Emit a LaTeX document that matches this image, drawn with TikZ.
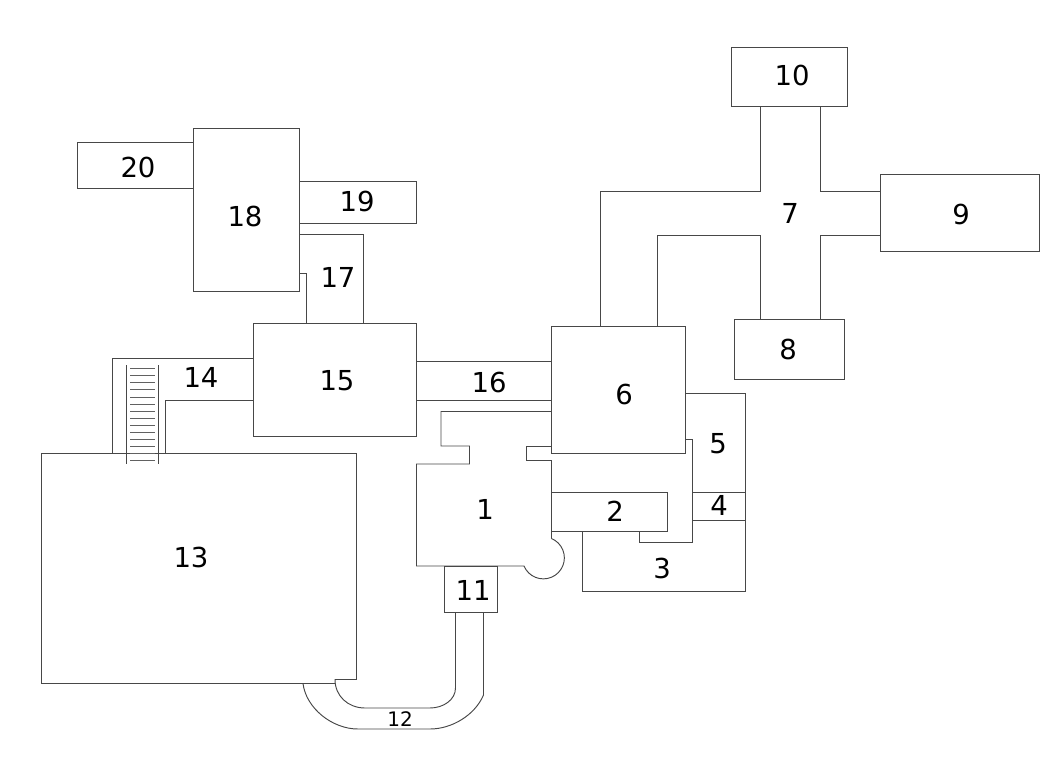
\documentclass[tikz,border=0pt]{standalone}
\usepackage{fontspec}
\setmainfont{DejaVu Sans}
\tikzset{
  wall/.style={draw=black!72,line width=0.95pt,line join=miter},
  tread/.style={draw=black!62,line width=0.95pt},
  lab/.style={inner sep=0pt,text=black,yshift=0.6pt,font=\fontsize{27.5}{27.5}\selectfont},
  labsmall/.style={inner sep=0pt,text=black,font=\fontsize{20}{20}\selectfont}
}
\begin{document}
\begin{tikzpicture}[x=1pt,y=-1pt]
\useasboundingbox (0,0) rectangle (1048,760);
% rectangles
\draw[wall] (731,47) rectangle (847,106);
\draw[wall] (880,174) rectangle (1039,251);
\draw[wall] (734,319) rectangle (844,379);
\draw[wall] (551,326) rectangle (685,453);
\draw[wall] (253,323) rectangle (416,436);
\draw[wall] (193,128) rectangle (299.5,291);
\draw[wall] (444.5,566) rectangle (497.5,612);
% 7
\draw[wall] (600,326) -- (600,191) -- (760,191) -- (760,106);
\draw[wall] (820,106) -- (820,191) -- (880,191);
\draw[wall] (880,235) -- (820,235) -- (820,319);
\draw[wall] (760,319) -- (760,235) -- (657,235) -- (657,326);
% 5, 4, 3, 2
\draw[wall] (685,393) -- (745,393) -- (745,591) -- (582.5,591) -- (582.5,531);
\draw[wall] (685,439.5) -- (692.5,439.5) -- (692.5,542) -- (639,542) -- (639,531);
\draw[wall] (692.5,492.5) -- (745,492.5);
\draw[wall] (692.5,520.5) -- (745,520.5);
\draw[wall] (551,492.5) -- (667.5,492.5) -- (667.5,531) -- (551,531);
% 1
\draw[wall] (551,411.5) -- (441,411.5) -- (441,446) -- (469.5,446) -- (469.5,464) -- (416.5,464) -- (416.5,566) -- (524,566) arc (202.8:428:21pt);
\draw[wall] (551,538) -- (551,460.5) -- (526,460.5) -- (526,446) -- (551,446);
% 12, 13
\draw[wall] (455.5,612) -- (455.5,688) .. controls (455.5,700) and (443,708) .. (430,708) -- (365,708) .. controls (348,708) and (335,696) .. (335,679.5) -- (356.5,679.5) -- (356.5,453.5) -- (41.5,453.5) -- (41.5,683.5) -- (335,683.5);
\draw[wall] (483.5,612) -- (483.5,695) .. controls (475,715) and (452,729) .. (430,729) -- (358,729) .. controls (332,729) and (306,708) .. (303,683.5);
% 14, 16, 17, 19, 20
\draw[wall] (112.5,453.5) -- (112.5,358) -- (253,358);
\draw[wall] (165.5,453.5) -- (165.5,400.5) -- (253,400.5);
\draw[wall] (416,361) -- (551,361);
\draw[wall] (416,400.5) -- (551,400.5);
\draw[wall] (299.5,234.5) -- (363.5,234.5) -- (363.5,323);
\draw[wall] (299.5,273) -- (306.5,273) -- (306.5,323);
\draw[wall] (299.5,181.5) -- (416.5,181.5) -- (416.5,223.5) -- (299.5,223.5);
\draw[wall] (193,142.5) -- (77,142.5) -- (77,188.5) -- (193,188.5);
% stairs
\draw[wall] (126.5,365) -- (126.5,464);
\draw[wall] (158.5,365) -- (158.5,464);
\foreach \i in {0,...,13} \draw[tread] (130,368.7+7.07*\i) -- (155,368.7+7.07*\i);
% labels
\node[lab] (n1) at (485,510) {1};
\node[lab] (n2) at (615,512) {2};
\node[lab] (n3) at (662,569) {3};
\node[lab] (n4) at (719,506) {4};
\node[lab] (n5) at (718,444) {5};
\node[lab] (n6) at (624,395) {6};
\node[lab] (n7) at (790,214) {7};
\node[lab] (n8) at (788,350) {8};
\node[lab] (n9) at (961,215) {9};
\node[lab] (n10) at (792,76) {10};
\node[lab] (n11) at (473,591) {11};
\node[labsmall] (n12) at (400,719.5) {12};
\node[lab] (n13) at (191,558) {13};
\node[lab] (n14) at (201,378) {14};
\node[lab] (n15) at (337,381) {15};
\node[lab] (n16) at (489,383) {16};
\node[lab] (n17) at (338,278) {17};
\node[lab] (n18) at (245,217) {18};
\node[lab] (n19) at (357,202) {19};
\node[lab] (n20) at (138,168) {20};
\end{tikzpicture}
\end{document}
